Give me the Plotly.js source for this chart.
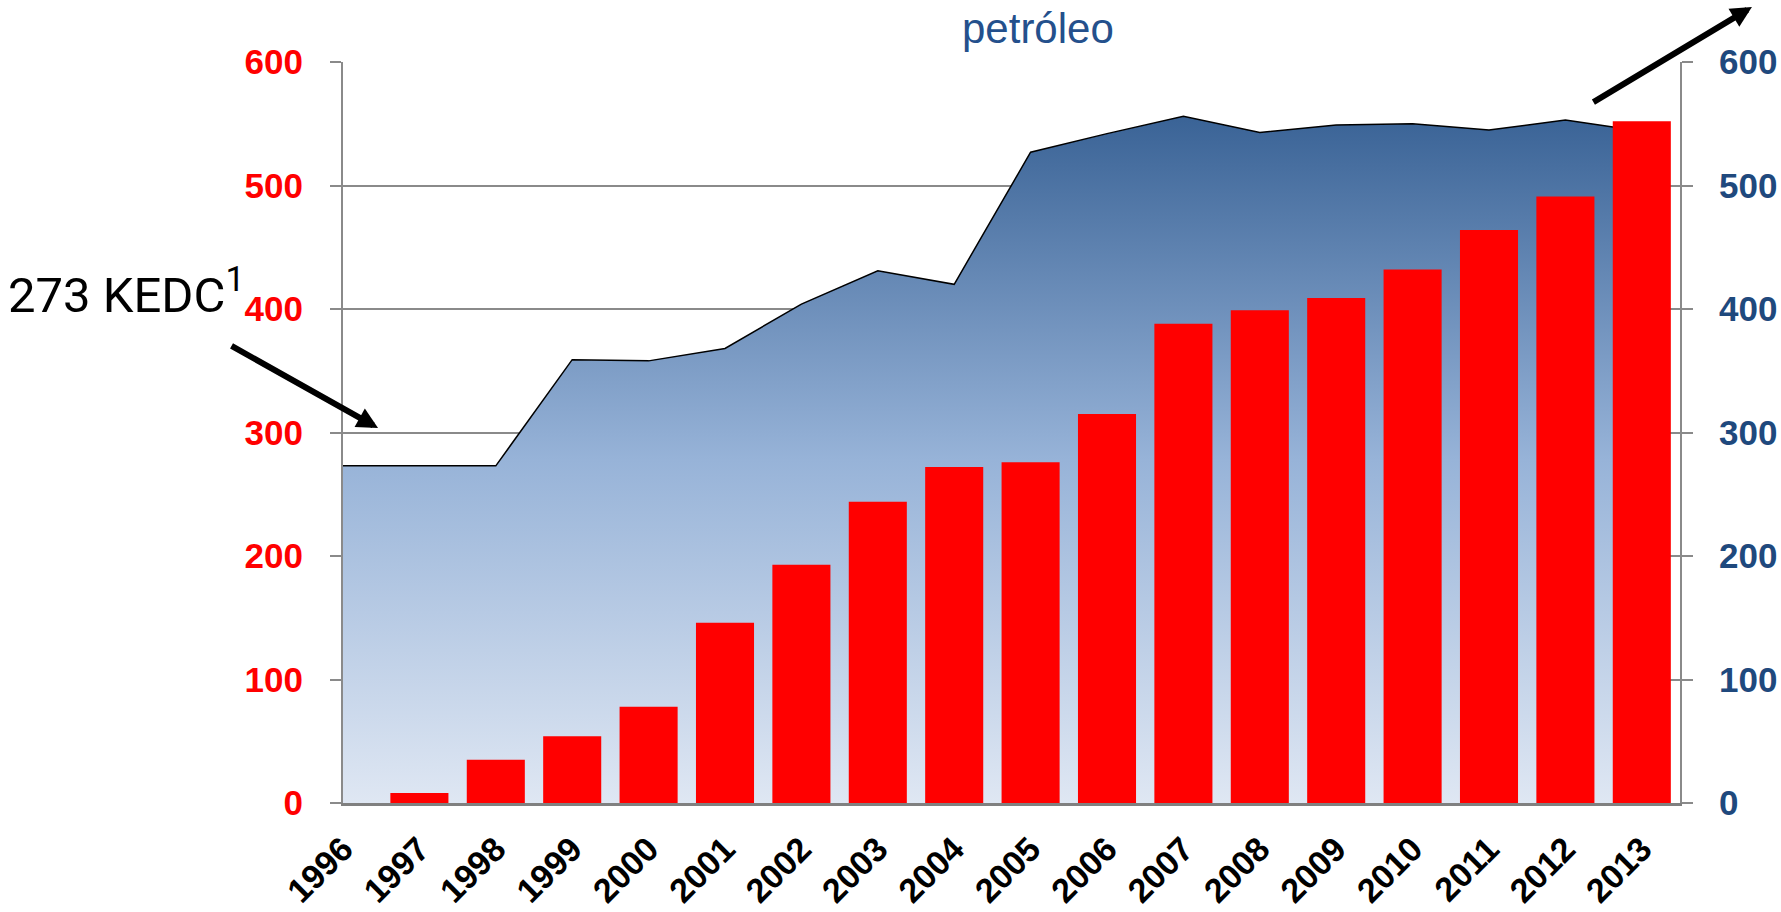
<!DOCTYPE html>
<html>
<head>
<meta charset="utf-8">
<script src="https://cdn.plot.ly/plotly-3.0.1.min.js"></script>
<style>
  html, body { margin: 0; padding: 0; background: #fff; }
  #chart { width: 1781px; height: 912px; }
</style>
</head>
<body>
<div id="chart"></div>
<script>
// años del eje x
const YEARS = ['1996', '1997', '1998', '1999', '2000', '2001', '2002', '2003', '2004',
  '2005', '2006', '2007', '2008', '2009', '2010', '2011', '2012', '2013'];
// barras rojas (eje izquierdo, rojo)
const BAR_VALUES = [0, 8, 35, 54, 78, 146, 193, 244, 272, 276, 315, 388, 399, 409, 432, 464, 491, 552];
// área azul (eje derecho, azul)
const AREA_VALUES = [273, 273, 273, 359, 358, 368, 404, 431, 420, 527, 542, 556, 543, 549, 550, 545, 553, 544];
const Y_TICKS = [0, 100, 200, 300, 400, 500, 600];
const TITLE_TEXT = 'petróleo';
const NOTE_TEXT = '273 KEDC<sup>1</sup>';

const FONT = 'Arial, "Liberation Sans", sans-serif';
const GRID = '#8a8a8a';
const RED = '#ff0000';
const NAVY = '#1f497d';

// el área va en el eje principal (derecho) para quedar detrás de las barras,
// que van en el eje superpuesto (izquierdo)
const area = {
  x: YEARS, y: AREA_VALUES, type: 'scatter', mode: 'lines', yaxis: 'y',
  line: { color: '#000', width: 1.5 },
  fill: 'tozeroy',
  fillgradient: {
    type: 'vertical', start: 0, stop: Math.max(...AREA_VALUES),
    colorscale: [[0, '#dfe7f3'], [0.5, '#97b3d8'], [1, '#3a6396']]
  },
  hoverinfo: 'skip', showlegend: false
};
const bars = {
  x: YEARS, y: BAR_VALUES, type: 'bar', yaxis: 'y2',
  marker: { color: RED, line: { width: 0 } },
  hoverinfo: 'skip', showlegend: false
};

const yCommon = {
  range: [0, 600], tickvals: Y_TICKS, ticks: 'outside', ticklen: 11,
  tickcolor: GRID, tickwidth: 2, showline: true, linecolor: GRID, linewidth: 2,
  zeroline: false, fixedrange: true
};

const layout = {
  width: 1781, height: 912,
  margin: { l: 343, r: 101, t: 62, b: 109 },
  paper_bgcolor: '#fff', plot_bgcolor: '#fff',
  bargap: 0.24,
  xaxis: {
    type: 'category', range: [0, 17.5], tickangle: -45,
    tickfont: { family: FONT, size: 34, color: '#000', weight: 'bold' },
    ticks: '', ticklabelstandoff: 10,
    showline: true, linecolor: '#808080', linewidth: 2.5,
    showgrid: false, zeroline: false, fixedrange: true
  },
  yaxis: Object.assign({}, yCommon, {
    side: 'right', showgrid: true, gridcolor: GRID, gridwidth: 2,
    tickfont: { family: FONT, size: 35, color: NAVY, weight: 'bold' },
    ticklabelstandoff: 19
  }),
  yaxis2: Object.assign({}, yCommon, {
    side: 'left', overlaying: 'y', anchor: 'x', showgrid: false,
    tickfont: { family: FONT, size: 35, color: RED, weight: 'bold' },
    ticklabelstandoff: 20
  }),
  annotations: [
    {
      text: TITLE_TEXT, xref: 'paper', yref: 'paper', x: 0.52, y: 1.045,
      xanchor: 'center', yanchor: 'middle', showarrow: false,
      font: { family: FONT, size: 42, color: '#24508c' }
    },
    {
      text: NOTE_TEXT, xref: 'paper', yref: 'paper', x: -0.252, y: 0.69,
      xanchor: 'left', yanchor: 'middle', showarrow: false,
      font: { family: 'Roboto, sans-serif', size: 49, color: '#000' }
    },
    {
      text: '', xref: 'paper', yref: 'paper', x: 0.0262, y: 0.506,
      showarrow: true, arrowhead: 2, arrowsize: 0.7, arrowwidth: 6, arrowcolor: '#000',
      ax: -148, ay: -83, standoff: 0
    },
    {
      text: '', xref: 'paper', yref: 'paper', x: 1.0538, y: 1.0742,
      showarrow: true, arrowhead: 2, arrowsize: 0.7, arrowwidth: 6, arrowcolor: '#000',
      ax: -160, ay: 96, standoff: 0
    }
  ]
};

Plotly.newPlot('chart', [area, bars], layout, { displayModeBar: false, staticPlot: true });
</script>
</body>
</html>
